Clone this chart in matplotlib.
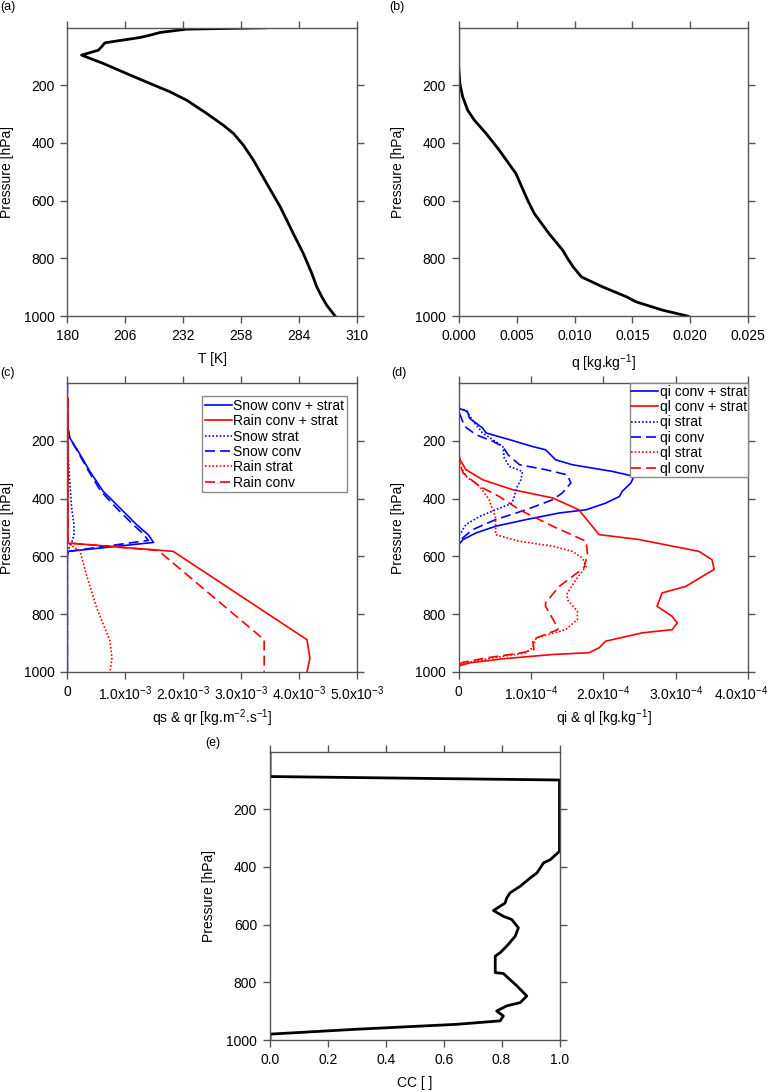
import numpy as np
import matplotlib
matplotlib.use('Agg')
import matplotlib.pyplot as plt
import matplotlib.transforms as mtrans

plt.rcParams['font.family'] = ['Liberation Sans', 'DejaVu Sans']
plt.rcParams['mathtext.fontset'] = 'custom'
plt.rcParams['mathtext.rm'] = 'Liberation Sans'
plt.rcParams['mathtext.it'] = 'Liberation Sans'

# (a) temperature profile
p_T = [1.4, 6, 17.6, 27, 35, 48, 53.4, 67, 79, 96, 125, 160, 194, 223, 252, 298, 339, 367,
       408, 460, 541, 621, 714, 783, 852, 898, 933, 962, 1000]
T = [268.8, 233.6, 221.6, 217.1, 212.6, 201.4, 196.9, 195.4, 193.9, 186.4, 196.2, 206.7,
     217.1, 226.1, 233.6, 242.6, 250.1, 254.6, 259.1, 263.6, 269.6, 275.6, 281.5, 286.0,
     289.8, 292.0, 294.3, 296.5, 300.3]

# (b) specific humidity
p_q = [1.4, 136, 194, 240, 287, 321, 367, 425, 506, 598, 644, 714, 771, 800, 830, 864, 898,
       933, 950, 979, 1000]
q = [0.0, 0.0, 0.0001, 0.00034, 0.00078, 0.00135, 0.00236, 0.0035, 0.00494, 0.00595,
     0.00652, 0.0078, 0.00897, 0.0094, 0.0099, 0.0106, 0.0124, 0.0145, 0.0153, 0.0176, 0.0198]

# (c) precipitation fluxes
p_snow = [1, 145, 191, 237, 306, 375, 433, 491, 526, 552, 583, 600, 1000]
snow_tot = [0, 0, 0.046e-3, 0.19e-3, 0.39e-3, 0.62e-3, 0.91e-3, 1.20e-3, 1.40e-3, 1.49e-3,
            0.02e-3, 0, 0]
p_snowc = [1, 145, 191, 237, 306, 375, 433, 491, 520, 545, 583, 600, 1000]
snow_conv = [0, 0, 0.04e-3, 0.18e-3, 0.37e-3, 0.58e-3, 0.85e-3, 1.14e-3, 1.30e-3, 1.40e-3,
             0.02e-3, 0, 0]
p_snows = [1, 202, 318, 433, 491, 526, 554, 583, 1000]
snow_strat = [0, 0, 0.035e-3, 0.075e-3, 0.115e-3, 0.115e-3, 0.075e-3, 0, 0]

p_rain = [52, 554, 583, 889, 953, 1000]
rain_tot = [0.01e-3, 0.01e-3, 1.83e-3, 4.14e-3, 4.19e-3, 4.14e-3]
p_rainc = [52, 554, 580, 889, 1000]
rain_conv = [0.01e-3, 0.01e-3, 1.57e-3, 3.40e-3, 3.40e-3]
p_rains = [52, 554, 583, 664, 780, 849, 895, 953, 1000]
rain_strat = [0.01e-3, 0.01e-3, 0.22e-3, 0.33e-3, 0.51e-3, 0.65e-3, 0.74e-3, 0.77e-3, 0.74e-3]

# (d) cloud ice / liquid water
p_qi = [1, 87, 90.5, 98, 122, 139, 156, 173, 196, 220, 231, 266, 283, 306, 323, 346, 375,
        393, 416, 439, 450, 473, 496, 519, 542, 560, 1000]
qi_tot = [0, 0, 0.03e-4, 0.12e-4, 0.15e-4, 0.24e-4, 0.33e-4, 0.38e-4, 0.70e-4, 1.02e-4,
          1.20e-4, 1.34e-4, 1.57e-4, 2.12e-4, 2.42e-4, 2.38e-4, 2.26e-4, 2.22e-4, 2.03e-4,
          1.76e-4, 1.39e-4, 0.93e-4, 0.51e-4, 0.24e-4, 0.06e-4, 0, 0]
p_qis = [1, 87, 95, 139, 173, 196, 220, 260, 289, 306, 335, 358, 416, 439, 462, 490, 531, 1000]
qi_strat = [0, 0, 0.10e-4, 0.22e-4, 0.33e-4, 0.47e-4, 0.61e-4, 0.63e-4, 0.70e-4, 0.88e-4,
            0.86e-4, 0.81e-4, 0.74e-4, 0.51e-4, 0.29e-4, 0.10e-4, 0, 0]
p_qic = [1, 100, 110, 150, 179, 202, 220, 248, 283, 300, 318, 346, 381, 404, 439, 473, 508,
         542, 560, 1000]
qi_conv = [0, 0, 0.02e-4, 0.08e-4, 0.24e-4, 0.47e-4, 0.61e-4, 0.68e-4, 0.84e-4, 1.20e-4,
           1.50e-4, 1.55e-4, 1.43e-4, 1.30e-4, 0.93e-4, 0.51e-4, 0.19e-4, 0.03e-4, 0, 0]

p_ql = [87, 243, 266, 300, 335, 369, 398, 439, 525, 542, 583, 612, 646, 663, 704, 727, 773,
        808, 831, 854, 865, 894, 917, 934, 940, 955, 969, 980]
ql_tot = [0, 0, 0.02e-4, 0.10e-4, 0.33e-4, 0.74e-4, 1.30e-4, 1.66e-4, 1.94e-4, 2.49e-4,
          3.32e-4, 3.50e-4, 3.53e-4, 3.41e-4, 3.14e-4, 2.81e-4, 2.74e-4, 2.95e-4, 3.02e-4,
          2.95e-4, 2.54e-4, 2.03e-4, 1.94e-4, 1.80e-4, 1.30e-4, 0.61e-4, 0.15e-4, 0]
p_qls = [87, 254, 289, 323, 358, 404, 467, 525, 548, 565, 583, 606, 635, 681, 727, 750, 790,
         819, 854, 883, 917, 934, 952, 969, 978]
ql_strat = [0, 0, 0.03e-4, 0.10e-4, 0.29e-4, 0.42e-4, 0.51e-4, 0.51e-4, 0.84e-4, 1.30e-4,
            1.57e-4, 1.71e-4, 1.76e-4, 1.62e-4, 1.50e-4, 1.50e-4, 1.64e-4, 1.64e-4, 1.48e-4,
            1.07e-4, 1.02e-4, 0.93e-4, 0.47e-4, 0.10e-4, 0]
p_qlc = [87, 266, 312, 358, 393, 439, 496, 548, 594, 640, 704, 761, 773, 848, 854, 888, 923,
         934, 952, 967, 975]
ql_conv = [0, 0, 0.06e-4, 0.29e-4, 0.56e-4, 0.84e-4, 1.30e-4, 1.76e-4, 1.78e-4, 1.73e-4,
           1.39e-4, 1.20e-4, 1.20e-4, 1.37e-4, 1.37e-4, 1.02e-4, 1.04e-4, 0.88e-4, 0.38e-4,
           0.06e-4, 0]

# (e) cloud cover
p_cc = [1, 87, 99, 220, 346, 375, 386, 404, 421, 438, 467, 490, 507, 525, 536, 551, 571, 582,
        611, 640, 674, 697, 709, 766, 769, 812, 847, 870, 881, 899, 916, 933, 945, 962, 979, 1000]
cc = [0, 0, 1.0, 1.0, 1.0, 0.968, 0.945, 0.933, 0.922, 0.899, 0.864, 0.829, 0.818, 0.812,
      0.795, 0.772, 0.806, 0.835, 0.858, 0.847, 0.818, 0.795, 0.778, 0.778, 0.806, 0.853,
      0.887, 0.864, 0.818, 0.783, 0.806, 0.795, 0.645, 0.30, 0, 0]

W, H = 772, 1092
fig = plt.figure(figsize=(W / 100, H / 100), dpi=100)
FS = 10

def make_ax(left, top):
    ax = fig.add_axes([left / W, 1 - (top + 288.5) / H, 289.5 / W, 288.5 / H])
    ax.set_ylim(1000, 1)
    ax.set_yticks([200, 400, 600, 800, 1000])
    ax.tick_params(direction='out', length=5.3, width=1, color='#555555', pad=4,
                   labelsize=FS, top=True, right=True)
    for s in ax.spines.values():
        s.set_color('#555555')
        s.set_linewidth(1)
    ax.set_ylabel('Pressure [hPa]', fontsize=FS)
    ax.yaxis.set_label_coords(-0.185, 0.5)
    ax.xaxis.set_label_coords(0.5, -0.125)
    return ax

def add_legend(ax, anchor, pad):
    leg = ax.legend(loc='upper right', bbox_to_anchor=anchor, borderaxespad=0,
                    fontsize=FS, handlelength=1.95, handletextpad=0.1, labelspacing=0.1,
                    borderpad=pad, fancybox=False, framealpha=1, edgecolor='#888888')
    leg.get_frame().set_linewidth(1)
    return leg

blk = dict(color='black', lw=2)
dot = (0, (1, 1.2))
dash = (0, (6, 3))
clw = 1.2

ax = make_ax(67.3, 27.7)
ax.plot(T, p_T, **blk)
ax.set_xlim(180, 310)
ax.set_xticks([180, 206, 232, 258, 284, 310])
ax.set_xlabel('T [K]', fontsize=FS)

ax = make_ax(458.7, 27.7)
ax.plot(q, p_q, **blk)
ax.set_xlim(0, 0.025)
ax.set_xticks([0, 0.005, 0.01, 0.015, 0.02, 0.025])
ax.set_xticklabels(['0.000', '0.005', '0.010', '0.015', '0.020', '0.025'])
ax.set_xlabel(r'q [kg.kg$^{-1}$]', fontsize=FS)

ax = make_ax(67.3, 383.3)
ax.plot(snow_tot, p_snow, color='blue', lw=clw, label='Snow conv + strat')
ax.plot(rain_tot, p_rain, color='red', lw=clw, label='Rain conv + strat')
ax.plot(snow_strat, p_snows, color='blue', lw=clw, ls=dot, label='Snow strat')
ax.plot(snow_conv, p_snowc, color='blue', lw=clw, ls=dash, label='Snow conv')
ax.plot(rain_strat, p_rains, color='red', lw=clw, ls=dot, label='Rain strat')
ax.plot(rain_conv, p_rainc, color='red', lw=clw, ls=dash, label='Rain conv')
ax.set_xlim(0, 5e-3)
ax.set_xticks([0, 1e-3, 2e-3, 3e-3, 4e-3, 5e-3])
ax.set_xticklabels(['0'] + [r'%.1fx10$^{-3}$' % v for v in [1, 2, 3, 4, 5]])
ax.set_xlabel(r'qs & qr [kg.m$^{-2}$.s$^{-1}$]', fontsize=FS)
add_legend(ax, (0.966, 0.956), 0.2)

ax = make_ax(458.7, 383.3)
ax.plot(qi_tot, p_qi, color='blue', lw=clw, label='qi conv + strat')
ax.plot(ql_tot, p_ql, color='red', lw=clw, label='ql conv + strat')
ax.plot(qi_strat, p_qis, color='blue', lw=clw, ls=dot, label='qi strat')
ax.plot(qi_conv, p_qic, color='blue', lw=clw, ls=dash, label='qi conv')
ax.plot(ql_strat, p_qls, color='red', lw=clw, ls=dot, label='ql strat')
ax.plot(ql_conv, p_qlc, color='red', lw=clw, ls=dash, label='ql conv')
ax.set_xlim(0, 4e-4)
ax.set_xticks([0, 1e-4, 2e-4, 3e-4, 4e-4])
ax.set_xticklabels(['0'] + [r'%.1fx10$^{-4}$' % v for v in [1, 2, 3, 4]])
ax.set_xlabel(r'qi & ql [kg.kg$^{-1}$]', fontsize=FS)
add_legend(ax, (1.0, 1.0), 0.1)
# nudge the last tick label left so it stays inside the figure
last = ax.xaxis.get_major_ticks()[-1].label1
last.set_transform(last.get_transform() +
                   mtrans.ScaledTranslation(-5 / 72, 0, fig.dpi_scale_trans))

ax = make_ax(270, 751.7)
ax.plot(cc, p_cc, **blk)
ax.set_xlim(0, 1)
ax.set_xticks([0, 0.2, 0.4, 0.6, 0.8, 1.0])
ax.set_xticklabels(['0.0', '0.2', '0.4', '0.6', '0.8', '1.0'])
ax.set_xlabel('CC [ ]', fontsize=FS)

for lbl, x, y in [('(a)', 0, 7), ('(b)', 389, 7), ('(c)', 0, 373), ('(d)', 391, 373),
                  ('(e)', 205, 743)]:
    fig.text(x / W, 1 - y / H, lbl, fontsize=9, va='center', ha='left')

fig.savefig('out.png', dpi=100)
